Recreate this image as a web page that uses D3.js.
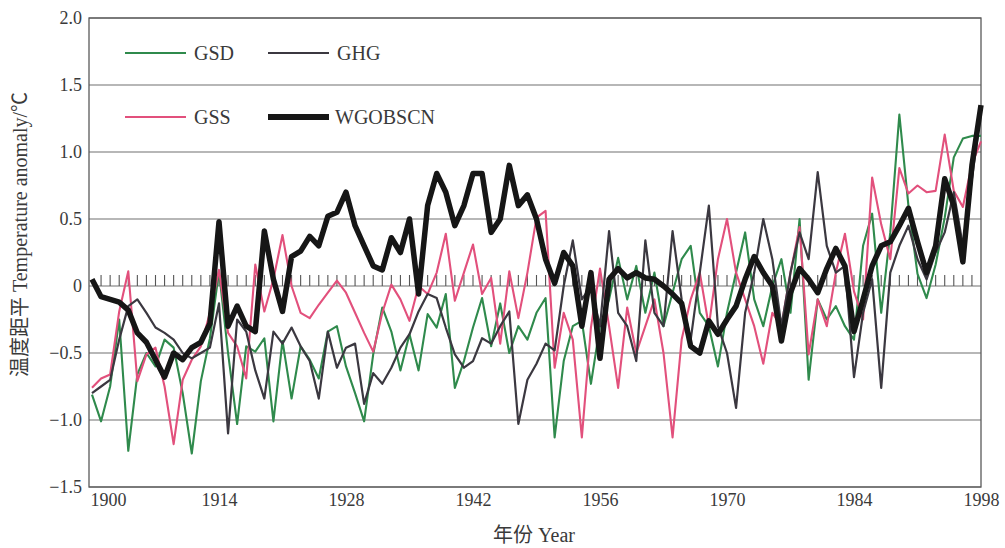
<!DOCTYPE html>
<html>
<head>
<meta charset="utf-8">
<script src="https://cdn.jsdelivr.net/npm/d3@7"></script>
<style>
  body { margin: 0; background: #fff; }
  svg { display: block; }
  .tick-label { font-family: "Liberation Serif", "DejaVu Serif", serif; font-size: 18px; fill: #3a3a3a; }
  .title-styling { font-family: "Liberation Serif", "Noto Sans CJK SC", serif; font-size: 20px; fill: #3a3a3a; }
  .legend-label { font-family: "Liberation Serif", serif; font-size: 20px; fill: #3a3a3a; }
</style>
</head>
<body>
<div id="viz"></div>
<script>

// categories (years) and tick labels
const years = d3.range(1900, 1999);
const xTicks = [1900, 1914, 1928, 1942, 1956, 1970, 1984, 1998];
const yTicks = [-1.5, -1.0, -0.5, 0, 0.5, 1.0, 1.5, 2.0];
const seriesNames = ["GSD", "GHG", "GSS", "WGOBSCN"];

// series values, 1900-1998
const gsd = [
  -0.81, -1.01, -0.75, -0.25, -1.23, -0.66, -0.50, -0.60, -0.40, -0.46,
  -0.80, -1.25, -0.71, -0.39,  0.11, -0.50, -1.03, -0.45, -0.49, -0.39,
  -1.01, -0.41, -0.84, -0.45, -0.55, -0.69, -0.34, -0.30, -0.60, -0.80,
  -1.01, -0.51, -0.16, -0.34, -0.63, -0.36, -0.63, -0.21, -0.31, -0.06,
  -0.76, -0.56, -0.31, -0.09, -0.45, -0.13, -0.50, -0.30, -0.40, -0.20,
  -0.09, -1.13, -0.56, -0.30, -0.26, -0.73, -0.30, -0.10,  0.21, -0.10,
   0.15, -0.20,  0.10, -0.30, -0.05,  0.20,  0.30, -0.20, -0.30, -0.60,
  -0.20,  0.10,  0.40, -0.10, -0.30,  0.00,  0.20, -0.20,  0.50, -0.70,
  -0.10, -0.25, -0.15, -0.30, -0.40,  0.30,  0.54, -0.20,  0.40,  1.28,
   0.60,  0.09, -0.09,  0.16,  0.51,  0.96,  1.10,  1.12,  1.12
];

const ghg = [
  -0.80, -0.75, -0.70, -0.40, -0.15, -0.10, -0.20, -0.31, -0.35, -0.40,
  -0.50, -0.54, -0.50, -0.46, -0.13, -1.10, -0.25, -0.34, -0.63, -0.84,
  -0.34, -0.43, -0.31, -0.45, -0.56, -0.84, -0.34, -0.61, -0.46, -0.43,
  -0.88, -0.65, -0.73, -0.61, -0.46, -0.36, -0.19, -0.06, -0.09, -0.31,
  -0.51, -0.61, -0.56, -0.39, -0.43, -0.30, -0.19, -1.03, -0.70, -0.58,
  -0.43, -0.48,  0.00,  0.34, -0.10,  0.00, -0.30,  0.41, -0.20, -0.30,
  -0.56,  0.34, -0.20, -0.30,  0.41, -0.10, -0.40,  0.10,  0.60, -0.30,
  -0.50, -0.91, -0.20,  0.10,  0.50,  0.20, -0.30,  0.10,  0.40,  0.20,
   0.85,  0.30,  0.10,  0.15, -0.68, -0.20,  0.05, -0.76,  0.10,  0.30,
   0.45,  0.20,  0.05,  0.25,  0.40,  0.70,  0.30,  0.80,  1.30
];

const gss = [
  -0.76, -0.69, -0.66, -0.19,  0.11, -0.71, -0.51, -0.46, -0.75, -1.18,
  -0.70, -0.55, -0.45, -0.20,  0.12, -0.35, -0.45, -0.69,  0.16, -0.19,
   0.05,  0.38,  0.00, -0.20, -0.24, -0.14, -0.05,  0.04, -0.05, -0.20,
  -0.35, -0.49, -0.20,  0.01, -0.10, -0.26,  0.00, -0.06,  0.10,  0.39,
  -0.11,  0.10,  0.31, -0.06,  0.06, -0.43,  0.11, -0.24,  0.10,  0.51,
   0.56, -0.61, -0.20, -0.40, -1.13, -0.31,  0.13, -0.30, -0.76, -0.16,
  -0.50, -0.30, -0.10, -0.50, -1.13, -0.40, -0.10,  0.10, -0.30,  0.20,
   0.50,  0.10, -0.10, -0.30, -0.58, -0.20, -0.30,  0.10,  0.44, -0.51,
  -0.10, -0.30,  0.10,  0.39, -0.04, -0.25,  0.81,  0.46,  0.20,  0.88,
   0.69,  0.75,  0.70,  0.71,  1.13,  0.71,  0.59,  0.91,  1.08
];

const wgobscn = [
   0.05, -0.08, -0.10, -0.12, -0.18, -0.35, -0.42, -0.55, -0.68, -0.50,
  -0.55, -0.46, -0.42, -0.28,  0.48, -0.30, -0.15, -0.30, -0.34,  0.41,
   0.05, -0.19,  0.22,  0.26,  0.37,  0.30,  0.52,  0.55,  0.70,  0.45,
   0.30,  0.15,  0.12,  0.36,  0.25,  0.50, -0.06,  0.60,  0.84,  0.70,
   0.45,  0.60,  0.84,  0.84,  0.40,  0.50,  0.90,  0.60,  0.68,  0.50,
   0.20,  0.02,  0.25,  0.15, -0.30,  0.10, -0.54,  0.05,  0.13,  0.06,
   0.10,  0.06,  0.05,  0.00, -0.06, -0.13, -0.45, -0.50, -0.26, -0.36,
  -0.25, -0.15,  0.05,  0.22,  0.10,  0.00, -0.41, -0.05,  0.13,  0.05,
  -0.05,  0.13,  0.28,  0.15, -0.34, -0.10,  0.15,  0.30,  0.33,  0.45,
   0.58,  0.33,  0.10,  0.30,  0.80,  0.60,  0.18,  0.90,  1.35
];

const W = 1005, H = 548;
const margin = {top: 18, right: 24, bottom: 61, left: 89},
    width = W - margin.left - margin.right,
    height = H - margin.top - margin.bottom;

const colors = {GSD: "#2f8a4c", GHG: "#3b3840", GSS: "#e2507c", WGOBSCN: "#161616"};
const widths = {GSD: 2.1, GHG: 2.2, GSS: 2.1, WGOBSCN: 5.5};

const svg = d3.select("#viz")
  .append("svg")
  .attr("width", W)
  .attr("height", H)
  .append("g")
    .attr("transform", `translate(${margin.left}, ${margin.top})`);

const x = d3.scaleLinear()
    .domain([1899.67, 1998])
    .range([0, width]);

const y = d3.scaleLinear()
    .domain([-1.5, 2.0])
    .range([height, 0]);

// horizontal grid lines
svg.append("g")
  .selectAll("line")
  .data(yTicks)
  .enter()
  .append("line")
    .attr("x1", 0)
    .attr("x2", width)
    .attr("y1", d => y(d))
    .attr("y2", d => y(d))
    .attr("stroke", "#707070")
    .attr("stroke-width", 1.2);

// frame
svg.append("rect")
  .attr("x", 0).attr("y", 0)
  .attr("width", width).attr("height", height)
  .attr("fill", "none")
  .attr("stroke", "#5a5a5a")
  .attr("stroke-width", 1.3);

// yearly ticks sitting on the zero line
svg.append("g")
  .selectAll("line")
  .data(years.filter(d => d > 1900 && d < 1998))
  .enter()
  .append("line")
    .attr("x1", d => x(d))
    .attr("x2", d => x(d))
    .attr("y1", y(0))
    .attr("y2", y(0) - 11)
    .attr("stroke", "#555")
    .attr("stroke-width", 1.1);

// y axis labels
svg.append("g")
  .call(d3.axisLeft(y).tickValues(yTicks).tickSize(0).tickPadding(7)
    .tickFormat(d => d === 0 ? "0" : d3.format(".1f")(d)))
  .call(g => g.select(".domain").remove())
  .selectAll("text")
    .attr("class", "tick-label")
    .attr("font-family", null)
    .attr("font-size", null);

// x axis labels
svg.append("g")
  .attr("transform", `translate(0, ${height})`)
  .call(d3.axisBottom(x).tickValues(xTicks).tickSize(0).tickPadding(6)
    .tickFormat(d3.format("d")))
  .call(g => g.select(".domain").remove())
  .selectAll("text")
    .attr("class", "tick-label")
    .attr("font-family", null)
    .attr("font-size", null)
    .attr("dx", d => d === 1900 ? 16 : 0);

// series lines
const seriesData = {GSD: gsd, GHG: ghg, GSS: gss, WGOBSCN: wgobscn};
const line = d3.line()
    .x((d, i) => x(years[i]))
    .y(d => y(d));

["GSD", "GSS", "GHG", "WGOBSCN"].forEach(name => {
  svg.append("path")
    .datum(seriesData[name])
    .attr("fill", "none")
    .attr("stroke", colors[name])
    .attr("stroke-width", widths[name])
    .attr("stroke-linejoin", "round")
    .attr("d", line);
});

// legend
const legend = svg.append("g")
    .attr("transform", "translate(36, 35)");
const legendItems = legend.selectAll("g")
  .data(seriesNames)
  .enter()
  .append("g")
    .attr("transform", (d, i) => `translate(${(i % 2) * 143}, ${Math.floor(i / 2) * 64})`);
legendItems.append("line")
    .attr("x1", 0).attr("x2", 61)
    .attr("y1", 0).attr("y2", 0)
    .attr("stroke", d => colors[d])
    .attr("stroke-width", d => widths[d] + (d === "WGOBSCN" ? 0.5 : 0));
legendItems.append("text")
    .attr("class", "legend-label")
    .attr("x", d => d === "WGOBSCN" ? 67 : 69)
    .attr("y", 7)
    .text(d => d);

// axis titles
svg.append("text")
  .attr("class", "title-styling")
  .attr("transform", `translate(${-62}, ${height / 2 - 18}) rotate(-90)`)
  .attr("text-anchor", "middle")
  .text("温度距平  Temperature anomaly/℃");

svg.append("text")
  .attr("class", "title-styling")
  .attr("x", 445)
  .attr("y", height + 55)
  .attr("text-anchor", "middle")
  .text("年份  Year");

</script>
</body>
</html>
